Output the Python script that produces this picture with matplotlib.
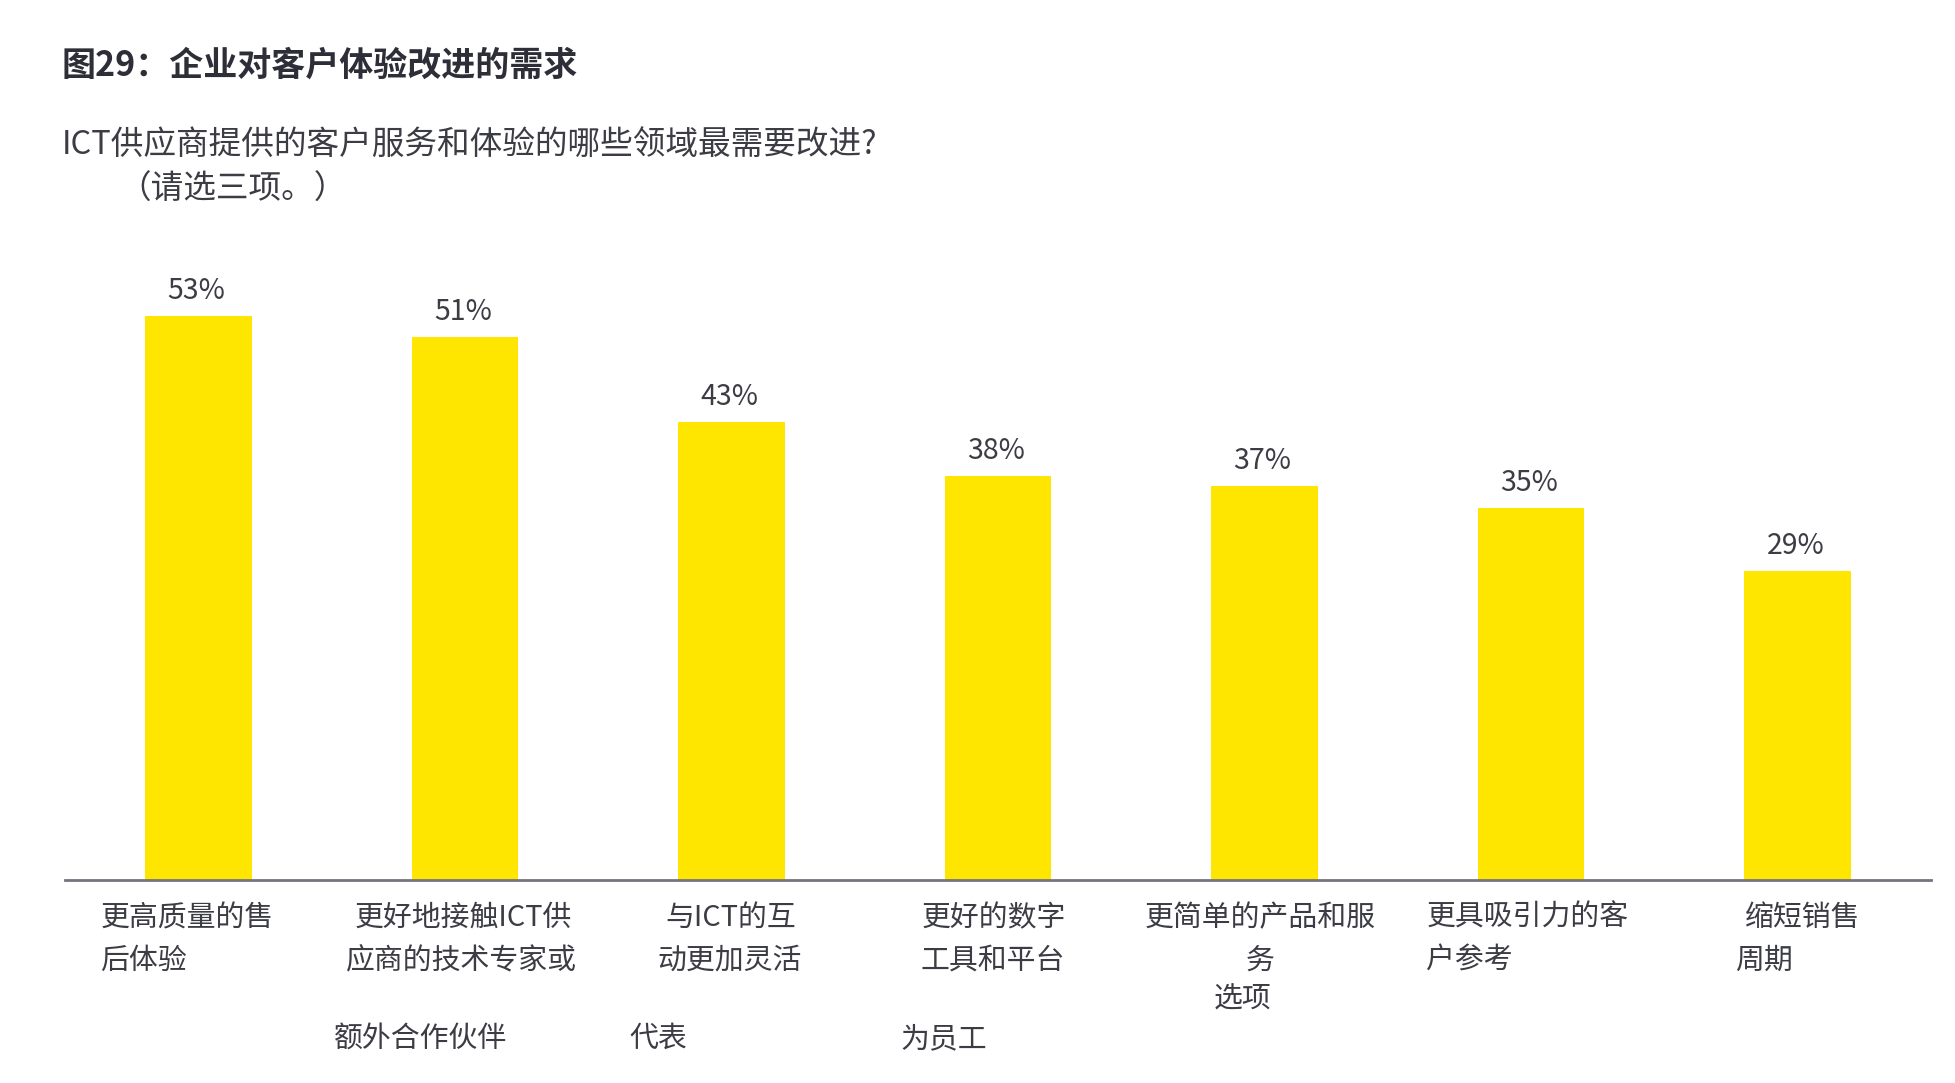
import matplotlib
matplotlib.use("Agg")
import matplotlib.pyplot as plt
import matplotlib.transforms as mtransforms

plt.rcParams['font.family'] = ['Noto Sans CJK SC', 'DejaVu Sans']

# data
values = [53, 51, 43, 38, 37, 35, 29]
value_labels = ["53%", "51%", "43%", "38%", "37%", "35%", "29%"]
cat_lines = [
    ["更高质量的售", "后体验"],
    ["更好地接触ICT供", "应商的技术专家或"],
    ["与ICT的互", "动更加灵活"],
    ["更好的数字", "工具和平台"],
    ["更简单的产品和服", "务", "选项"],
    ["更具吸引力的客", "户参考"],
    ["缩短销售", "周期"],
]
cat_extra = ["", "额外合作伙伴", "代表", "为员工", "", "", ""]
title = "图29：企业对客户体验改进的需求"
subtitle1 = "ICT供应商提供的客户服务和体验的哪些领域最需要改进?"
subtitle2 = "（请选三项。）"

W, H = 1956, 1083
fig = plt.figure(figsize=(W / 100, H / 100), dpi=100)
ax = fig.add_axes([65 / W, 203 / H, (1931 - 65) / W, 0.777 - 203 / H])

yellow = "#FFE600"
txt = "#3c3c44"

x = list(range(len(values)))
ax.bar(x, values, width=0.4, color=yellow)
ax.set_xlim(-0.5, 6.5)
ax.set_ylim(0, 60)
for s in ["top", "right", "left"]:
    ax.spines[s].set_visible(False)
ax.spines["bottom"].set_color("#747480")
ax.spines["bottom"].set_linewidth(2)
ax.set_xticks([])
ax.set_yticks([])

for i, v in enumerate(values):
    ax.annotate(value_labels[i], (i, v), xytext=(-2, 25), textcoords="offset pixels",
                ha="center", va="center", fontsize=20.5, color=txt, fontweight="light")

# category labels, laid out line by line like the source
trans = mtransforms.blended_transform_factory(ax.transData, ax.transAxes)
line_layout = [("left", [-98, -98]), ("center", [-2, -3]), ("center", [-1, -2]),
               ("center", [-4, -5]), ("center", [-4, -4, -22]), ("left", [-105, -105]),
               ("left", [-53, -63])]
line_dy = [-38, -81, -119]
extra_dx = [0, -44, -73, -54, 0, 0, 0]
for i, lines in enumerate(cat_lines):
    ha, dxs = line_layout[i]
    for j, line in enumerate(lines):
        ax.annotate(line, (i, 0), xycoords=trans, xytext=(dxs[j], line_dy[j]),
                    textcoords="offset pixels", ha=ha, va="center",
                    fontsize=20.8, color=txt, fontweight="light", annotation_clip=False)
    if cat_extra[i]:
        ax.annotate(cat_extra[i], (i, 0), xycoords=trans, xytext=(extra_dx[i], -159),
                    textcoords="offset pixels", ha="center", va="center",
                    fontsize=20.8, color=txt, fontweight="light", annotation_clip=False)

fig.text(62 / W, 1 - 65 / H, title, fontsize=24.5, fontweight="bold", color="#2e2e38",
         ha="left", va="center")
fig.text(62 / W, 1 - 145 / H, subtitle1, fontsize=23.5, color=txt, fontweight="light",
         ha="left", va="center")
fig.text(118 / W, 1 - 190 / H, subtitle2, fontsize=23.5, color=txt, fontweight="light",
         ha="left", va="center")

fig.savefig("out.png", dpi=100, facecolor="white")
